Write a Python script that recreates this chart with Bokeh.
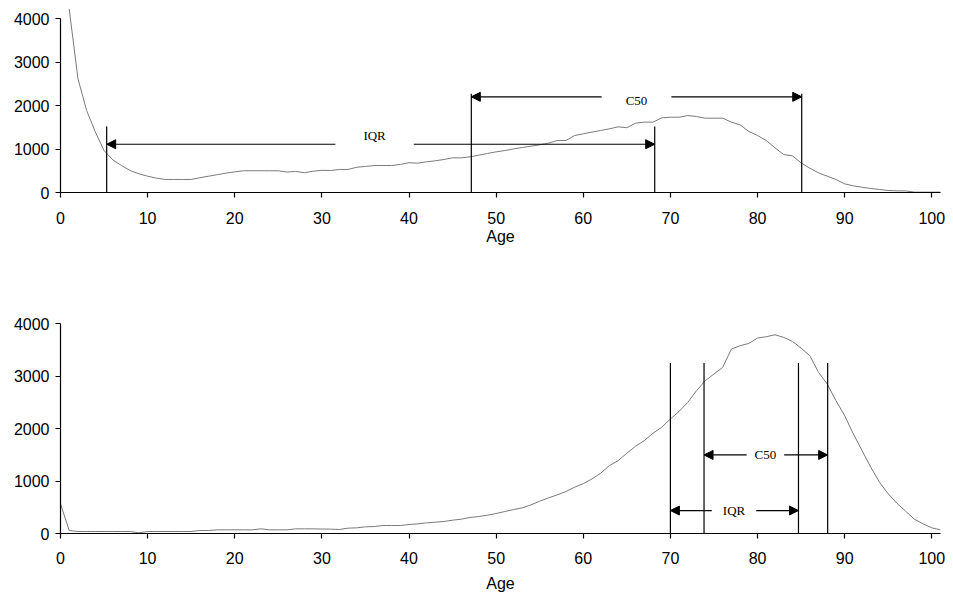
from bokeh.plotting import figure
from bokeh.layouts import column
from bokeh.models import Range1d, Arrow, NormalHead, Label, FixedTicker, Title
from bokeh.embed import file_html
from bokeh.resources import INLINE

# ---- upper panel: counts by age ----
ages_top = list(range(1, 102))
counts_top = [
    4220, 2620, 1885, 1390, 965, 750, 620, 505, 430, 375,
    330, 300, 300, 300, 300, 340, 375, 410, 445, 475,
    500, 500, 500, 500, 500, 470, 485, 455, 490, 510,
    505, 530, 530, 580, 600, 620, 620, 620, 645, 685,
    675, 705, 728, 759, 797, 797, 820, 858, 897, 935,
    965, 1003, 1034, 1065, 1096, 1134, 1195, 1195, 1310, 1349,
    1390, 1425, 1464, 1510, 1490, 1594, 1617, 1617, 1716, 1731,
    1731, 1770, 1747, 1709, 1709, 1709, 1617, 1556, 1402, 1310,
    1195, 1027, 873, 843, 682, 559, 452, 375, 300, 199,
    153, 122, 92, 69, 46, 38, 38, 8, 8, 8,
    8,
]
iqr_top = [5.3, 68.2]
c50_top = [47.15, 85.07]

# ---- lower panel: counts by age ----
ages_bottom = list(range(0, 102))
counts_bottom = [
    565, 57, 38, 38, 38, 38, 38, 38, 38, 13,
    38, 38, 38, 38, 38, 38, 57, 57, 70, 70,
    70, 70, 70, 89, 70, 70, 70, 89, 89, 89,
    85, 83, 76, 102, 108, 127, 133, 152, 152, 152,
    171, 184, 203, 216, 229, 254, 273, 305, 324, 349,
    381, 419, 457, 489, 546, 616, 679, 736, 800, 882,
    952, 1041, 1149, 1295, 1390, 1530, 1664, 1771, 1911, 2025,
    2184, 2330, 2502, 2724, 2914, 3041, 3168, 3517, 3581, 3625,
    3727, 3752, 3790, 3740, 3663, 3536, 3390, 3073, 2851, 2533,
    2248, 1898, 1581, 1263, 977, 756, 577, 425, 273, 184,
    108, 70,
]
iqr_bottom = [70.0, 84.7]
c50_bottom = [73.86, 88.05]

x_ticks = [0, 10, 20, 30, 40, 50, 60, 70, 80, 90, 100]
y_ticks = [0, 1000, 2000, 3000, 4000]

SANS = "Liberation Sans"
SERIF = "Liberation Serif"


def make_panel(height, y_end, borders, label_standoff):
    top, right, bottom, left = borders
    p = figure(width=953, height=height, output_backend="svg", toolbar_location=None,
               x_range=Range1d(0, 101), y_range=Range1d(0, y_end),
               min_border_top=top, min_border_right=right,
               min_border_bottom=bottom, min_border_left=left)
    p.outline_line_color = None
    p.grid.visible = False
    p.background_fill_color = "white"
    p.border_fill_color = "white"
    for ax in (p.xaxis[0], p.yaxis[0]):
        ax.axis_line_color = "black"
        ax.axis_line_width = 1.2
        ax.major_tick_line_color = "black"
        ax.major_tick_line_width = 1.2
        ax.major_tick_in = 0
        ax.major_tick_out = 5
        ax.minor_tick_line_color = None
        ax.major_label_text_font = SANS
        ax.major_label_text_font_size = "16px"
        ax.major_label_text_color = "black"
    p.xaxis.ticker = FixedTicker(ticks=x_ticks)
    p.yaxis.ticker = FixedTicker(ticks=y_ticks)
    p.xaxis.bounds = (0, 101)
    p.yaxis.bounds = (0, 4000)
    p.xaxis.major_label_standoff = label_standoff
    p.yaxis.major_label_standoff = 6
    return p


def bracket(p, q, line_y, top_y, text, text_y, half_gap, font_px):
    # vertical markers at the two ages
    p.segment(x0=q, y0=[0, 0], x1=q, y1=[top_y, top_y], line_color="black", line_width=1.2)
    mid = (q[0] + q[1]) / 2.0
    for start, end in ((mid - half_gap[0], q[0]), (mid + half_gap[1], q[1])):
        p.add_layout(Arrow(end=NormalHead(size=9, fill_color="black", line_color="black", line_width=1),
                           x_start=start, y_start=line_y, x_end=end, y_end=line_y,
                           line_color="black", line_width=1.2))
    p.add_layout(Label(x=mid - (half_gap[0] - half_gap[1]) / 2.0, y=text_y, text=text,
                       text_align="center", text_baseline="middle",
                       text_font=SERIF, text_font_size=font_px, text_color="black"))


# upper panel
p1 = make_panel(250, 4300, (5, 13, 58, 60), 14)
ax1 = p1.xaxis[0]
ax1.axis_label = "Age"
ax1.axis_label_text_font = SANS
ax1.axis_label_text_font_size = "16px"
ax1.axis_label_text_font_style = "normal"
ax1.axis_label_text_color = "black"
ax1.axis_label_standoff = 1
p1.line(ages_top, counts_top, line_color="#7a7a7a", line_width=1)
bracket(p1, iqr_top, 1110, 1520, "IQR", 1310, (5.2, 3.8), "13px")
bracket(p1, c50_top, 2200, 2270, "C50", 2115, (4.0, 4.0), "13px")

# lower panel: the axis title sits in its own strip under the tick labels
p2 = make_panel(348, 4100, (68, 11, 65, 57), 13)
p2.add_layout(Title(text="Age", align="center", text_font=SANS, text_font_size="16px",
                    text_font_style="normal", text_color="black", standoff=12), "below")
p2.line(ages_bottom, counts_bottom, line_color="#7a7a7a", line_width=1)
bracket(p2, iqr_bottom, 438, 3250, "IQR", 438, (2.6, 2.5), "13px")
bracket(p2, c50_bottom, 1498, 3250, "C50", 1498, (2.2, 2.1), "13px")

layout = column(p1, p2)
open("out.html", "w").write(file_html(layout, INLINE))
